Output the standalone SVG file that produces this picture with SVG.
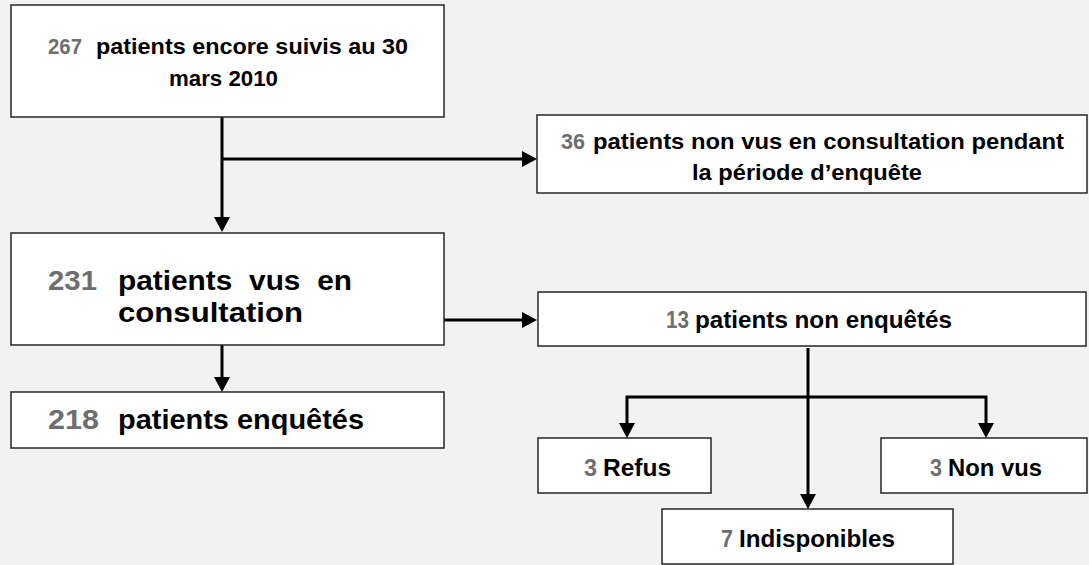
<svg xmlns="http://www.w3.org/2000/svg" width="1089" height="565" viewBox="0 0 1089 565">
<defs>
<marker id="ah" markerUnits="userSpaceOnUse" markerWidth="16" markerHeight="16" refX="0" refY="8" orient="auto">
<path d="M0,0 L15,8 L0,16 z" fill="#000"/>
</marker>
<style>
.box{fill:#fff;stroke:#262626;stroke-width:1.5}
.t{font-family:"Liberation Sans",Arial,sans-serif;font-weight:bold;fill:#000}
.n{fill:#6e6e6e}
.c{fill:none;stroke:#000;stroke-width:3}
.a{marker-end:url(#ah)}
</style>
</defs>
<rect width="1089" height="565" fill="#f2f2f2"/>
<g id="connectors">
<path class="c" d="M222,117 V159"/>
<path class="c a" d="M222,159 V217"/>
<path class="c a" d="M222,159 H522"/>
<path class="c a" d="M222,345 V377"/>
<path class="c a" d="M444,320 H522"/>
<path class="c a" d="M808,348 V494"/>
<path class="c a" d="M808,397 H627 V423"/>
<path class="c a" d="M808,397 H986 V423"/>
</g>
<g id="n267">
<rect class="box" x="11" y="5" width="433" height="112"/>
<text class="t n" x="48" y="54" font-size="22" textLength="34" lengthAdjust="spacingAndGlyphs">267</text>
<text class="t" x="96" y="54" font-size="22" textLength="312" lengthAdjust="spacingAndGlyphs">patients encore suivis au 30</text>
<text class="t" x="169" y="86" font-size="22" textLength="109" lengthAdjust="spacingAndGlyphs">mars 2010</text>
</g>
<g id="n36">
<rect class="box" x="537" y="115" width="550" height="78"/>
<text class="t n" x="561" y="149" font-size="22" textLength="24" lengthAdjust="spacingAndGlyphs">36</text>
<text class="t" x="593" y="149" font-size="22" textLength="471" lengthAdjust="spacingAndGlyphs">patients non vus en consultation pendant</text>
<text class="t" x="692" y="180" font-size="22" textLength="230" lengthAdjust="spacingAndGlyphs">la période d’enquête</text>
</g>
<g id="n231">
<rect class="box" x="11" y="233" width="433" height="112"/>
<text class="t n" x="48" y="290" font-size="28" textLength="49" lengthAdjust="spacingAndGlyphs">231</text>
<text class="t" x="118" y="290" font-size="28" word-spacing="8" textLength="234" lengthAdjust="spacingAndGlyphs">patients vus en</text>
<text class="t" x="118" y="322" font-size="28" textLength="185" lengthAdjust="spacingAndGlyphs">consultation</text>
</g>
<g id="n218">
<rect class="box" x="11" y="392" width="433" height="56"/>
<text class="t n" x="48" y="429" font-size="27" textLength="51" lengthAdjust="spacingAndGlyphs">218</text>
<text class="t" x="118" y="429" font-size="27" textLength="246" lengthAdjust="spacingAndGlyphs">patients enquêtés</text>
</g>
<g id="n13">
<rect class="box" x="538" y="292" width="548" height="54"/>
<text class="t n" x="666" y="328" font-size="23" textLength="23" lengthAdjust="spacingAndGlyphs">13</text>
<text class="t" x="695" y="328" font-size="23" textLength="257" lengthAdjust="spacingAndGlyphs">patients non enquêtés</text>
</g>
<g id="nRefus">
<rect class="box" x="538" y="438" width="173" height="55"/>
<text class="t n" x="584" y="476" font-size="23" textLength="13" lengthAdjust="spacingAndGlyphs">3</text>
<text class="t" x="603" y="476" font-size="23" textLength="68" lengthAdjust="spacingAndGlyphs">Refus</text>
</g>
<g id="nNonVus">
<rect class="box" x="881" y="438" width="206" height="55"/>
<text class="t n" x="930" y="476" font-size="23" textLength="12" lengthAdjust="spacingAndGlyphs">3</text>
<text class="t" x="948" y="476" font-size="23" textLength="94" lengthAdjust="spacingAndGlyphs">Non vus</text>
</g>
<g id="nIndisp">
<rect class="box" x="662" y="509" width="291" height="55"/>
<text class="t n" x="721" y="547" font-size="23" textLength="12" lengthAdjust="spacingAndGlyphs">7</text>
<text class="t" x="739" y="547" font-size="23" textLength="156" lengthAdjust="spacingAndGlyphs">Indisponibles</text>
</g>
</svg>
